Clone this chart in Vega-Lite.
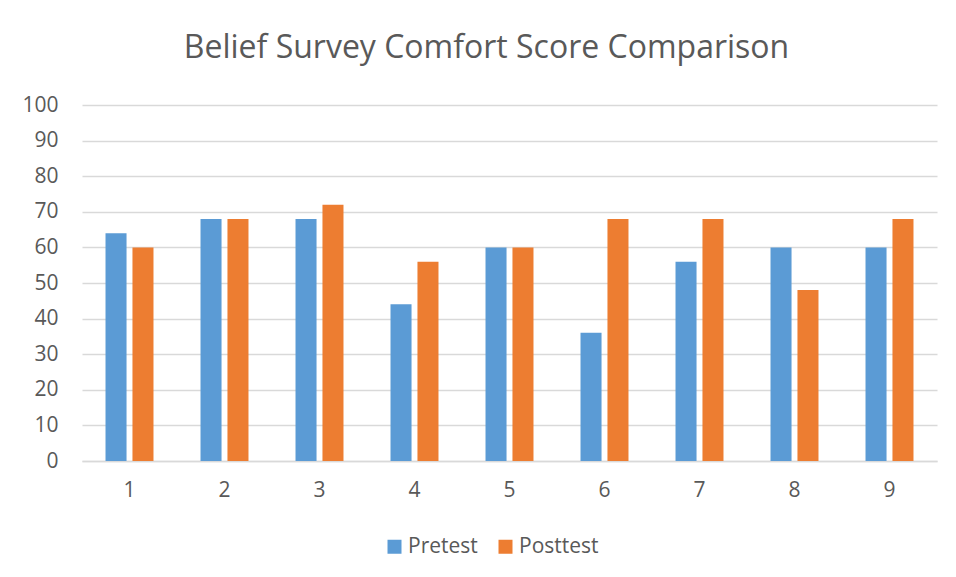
{
  "$schema": "https://vega.github.io/schema/vega-lite/v6.json",
  "width": 855,
  "height": 356,
  "autosize": {"type": "none"},
  "padding": {"left": 82, "top": 105, "right": 19, "bottom": 116},
  "background": "white",
  "title": {
    "text": "Belief Survey Comfort Score Comparison",
    "font": "Open Sans",
    "fontSize": 32,
    "fontWeight": "normal",
    "color": "#595959",
    "anchor": "middle",
    "frame": "group",
    "baseline": "alphabetic",
    "offset": 4,
    "dx": -23
  },
  "data": {
    "values": [
      {"item": "1", "test": "Pretest", "score": 64},
      {"item": "1", "test": "Posttest", "score": 60},
      {"item": "2", "test": "Pretest", "score": 68},
      {"item": "2", "test": "Posttest", "score": 68},
      {"item": "3", "test": "Pretest", "score": 68},
      {"item": "3", "test": "Posttest", "score": 72},
      {"item": "4", "test": "Pretest", "score": 44},
      {"item": "4", "test": "Posttest", "score": 56},
      {"item": "5", "test": "Pretest", "score": 60},
      {"item": "5", "test": "Posttest", "score": 60},
      {"item": "6", "test": "Pretest", "score": 36},
      {"item": "6", "test": "Posttest", "score": 68},
      {"item": "7", "test": "Pretest", "score": 56},
      {"item": "7", "test": "Posttest", "score": 68},
      {"item": "8", "test": "Pretest", "score": 60},
      {"item": "8", "test": "Posttest", "score": 48},
      {"item": "9", "test": "Pretest", "score": 60},
      {"item": "9", "test": "Posttest", "score": 68}
    ]
  },
  "mark": {"type": "bar"},
  "encoding": {
    "x": {
      "field": "item",
      "type": "nominal",
      "sort": null,
      "scale": {"paddingInner": 0.495, "paddingOuter": 0.2475},
      "axis": {
        "title": null,
        "labelAngle": 0,
        "ticks": false,
        "domainColor": "#d9d9d9",
        "domainWidth": 1.5,
        "labelFont": "Open Sans",
        "labelFontSize": 21,
        "labelColor": "#595959",
        "labelPadding": 18
      }
    },
    "xOffset": {
      "field": "test",
      "type": "nominal",
      "sort": ["Pretest", "Posttest"],
      "scale": {"paddingInner": 0.22, "paddingOuter": 0}
    },
    "y": {
      "field": "score",
      "type": "quantitative",
      "scale": {"domain": [0, 100], "nice": false},
      "axis": {
        "title": null,
        "values": [0, 10, 20, 30, 40, 50, 60, 70, 80, 90, 100],
        "ticks": false,
        "domain": false,
        "gridColor": "#d9d9d9",
        "gridWidth": 1.5,
        "labelFont": "Open Sans",
        "labelFontSize": 21,
        "labelColor": "#595959",
        "labelPadding": 24
      }
    },
    "color": {
      "field": "test",
      "type": "nominal",
      "sort": ["Pretest", "Posttest"],
      "scale": {"domain": ["Pretest", "Posttest"], "range": ["#5B9BD5", "#ED7D31"]},
      "legend": {
        "title": null,
        "orient": "none",
        "direction": "horizontal",
        "legendX": 302,
        "legendY": 431,
        "padding": 0,
        "symbolType": "square",
        "symbolSize": 196,
        "symbolStrokeWidth": 0,
        "symbolOpacity": 1,
        "labelFont": "Open Sans",
        "labelFontSize": 21,
        "labelColor": "#595959",
        "labelOffset": 3,
        "columnPadding": 17
      }
    }
  },
  "config": {
    "view": {"stroke": null}
  }
}
